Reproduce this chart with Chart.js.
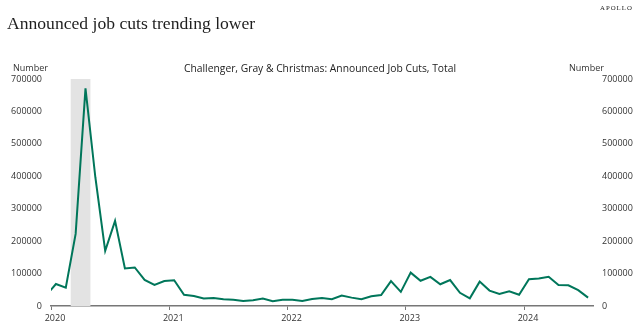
<!DOCTYPE html>
<html><head><meta charset="utf-8">
<script src="https://cdn.jsdelivr.net/npm/chart.js@4.4.1/dist/chart.umd.min.js"></script>
<style>
html,body{margin:0;padding:0;background:#fff;width:640px;height:335px;overflow:hidden}
#wrap{position:relative;width:640px;height:335px}
#c{position:absolute;left:0;top:0}
.t{position:absolute;white-space:nowrap;line-height:1}
#title{left:7px;top:15px;font-family:"Liberation Serif",serif;font-size:17.6px;color:#1e1e1e}
#brand{left:600px;top:5px;font-family:"Liberation Serif",serif;font-size:6.8px;letter-spacing:1px;color:#222}
#sub{left:0;width:640px;text-align:center;top:63px;font-family:"Open Sans",sans-serif;font-size:10.3px;color:#222}
#numL{left:13px;top:63px;font-family:"Open Sans",sans-serif;font-size:9px;color:#333}
#numR{left:569px;top:63px;font-family:"Open Sans",sans-serif;font-size:9px;color:#333}
</style>
</head><body>
<div id="wrap">
<canvas id="c" width="640" height="335"></canvas>
<div class="t" id="title">Announced job cuts trending lower</div>
<div class="t" id="brand">APOLLO</div>
<div class="t" id="sub">Challenger, Gray &amp; Christmas: Announced Job Cuts, Total</div>
<div class="t" id="numL">Number</div>
<div class="t" id="numR">Number</div>
</div>
<script>
// ---- data ----
const months = [
 "2019-12",
 "2020-01","2020-02","2020-03","2020-04","2020-05","2020-06","2020-07","2020-08","2020-09","2020-10","2020-11","2020-12",
 "2021-01","2021-02","2021-03","2021-04","2021-05","2021-06","2021-07","2021-08","2021-09","2021-10","2021-11","2021-12",
 "2022-01","2022-02","2022-03","2022-04","2022-05","2022-06","2022-07","2022-08","2022-09","2022-10","2022-11","2022-12",
 "2023-01","2023-02","2023-03","2023-04","2023-05","2023-06","2023-07","2023-08","2023-09","2023-10","2023-11","2023-12",
 "2024-01","2024-02","2024-03","2024-04","2024-05","2024-06","2024-07"
];
const jobCuts = [
 32843,
 67735,56660,222288,671129,397016,170219,262649,115762,118804,80666,64797,77030,
 79552,34531,30603,22913,24586,20476,18942,15723,17895,22822,14875,19052,
 19064,15245,21387,24286,20712,32517,25810,20781,29989,33843,76835,43651,
 102943,77770,89703,66995,80089,40709,23697,75151,47457,36836,45510,34817,
 82307,84638,90309,64789,63816,48786,25885
];
const yearLabels = ["2020","2021","2022","2023","2024"];
const yTicks = [0,100000,200000,300000,400000,500000,600000,700000];
const recessionMonths = ["2020-03","2020-04"];
const axisStart = "2020-01";
const axisEnd = "2024-08";

// ---- helpers ----
function mIdx(s){const [y,m]=s.split("-").map(Number);const [y0,m0]=axisStart.split("-").map(Number);return (y-y0)*12+(m-m0);}
const points = months.map((m,i)=>({x:mIdx(m)+0.5,y:jobCuts[i]}));
const FONT = {family:"Open Sans", size:9};

const bandPlugin = {
  id:'band',
  beforeDatasetsDraw(chart){
    const {ctx, scales:{x,y}} = chart;
    const x0 = x.getPixelForValue(mIdx(recessionMonths[0]));
    const x1 = x.getPixelForValue(mIdx(recessionMonths[recessionMonths.length-1])+1);
    const yTop = y.getPixelForValue(yTicks[yTicks.length-1]);
    const yBot = y.getPixelForValue(0);
    ctx.save(); ctx.fillStyle='#e3e3e3'; ctx.fillRect(x0,yTop,x1-x0,yBot-yTop); ctx.restore();
  }
};

const yCommon = {
  min: yTicks[0], max: yTicks[yTicks.length-1],
  afterBuildTicks: s => { s.ticks = yTicks.map(v=>({value:v})); },
  ticks:{font:FONT,color:'#333',padding:9,callback:v=>String(v)},
  grid:{display:false,drawTicks:false},
  border:{display:false}
};

new Chart(document.getElementById('c'),{
  type:'line',
  data:{datasets:[{data:points,borderColor:'#00765a',borderWidth:2,pointRadius:0,tension:0,fill:false,clip:0}]},
  options:{
    responsive:false, animation:false, events:[],
    layout:{padding:{top:79,left:0,right:0,bottom:0}},
    plugins:{legend:{display:false},tooltip:{enabled:false},title:{display:false}},
    scales:{
      x:{type:'linear',position:'bottom',min:0,max:mIdx(axisEnd),
        afterBuildTicks: s => { s.ticks = yearLabels.map((l,i)=>({value:i*12})); },
        ticks:{font:FONT,color:'#333',padding:3,labelOffset:4,maxRotation:0,autoSkip:false,callback:(v)=>yearLabels[Math.round(v/12)]},
        grid:{display:true,drawOnChartArea:false,drawTicks:true,tickLength:4,color:'#777',lineWidth:1},
        border:{display:true,color:'#777',width:1.5},
        afterFit:s=>{s.height=29;}
      },
      y:Object.assign({},yCommon,{position:'left',afterFit:s=>{s.width=51;}}),
      y2:Object.assign({},yCommon,{position:'right',afterFit:s=>{s.width=47;}})
    }
  },
  plugins:[bandPlugin]
});
</script>
</body></html>
